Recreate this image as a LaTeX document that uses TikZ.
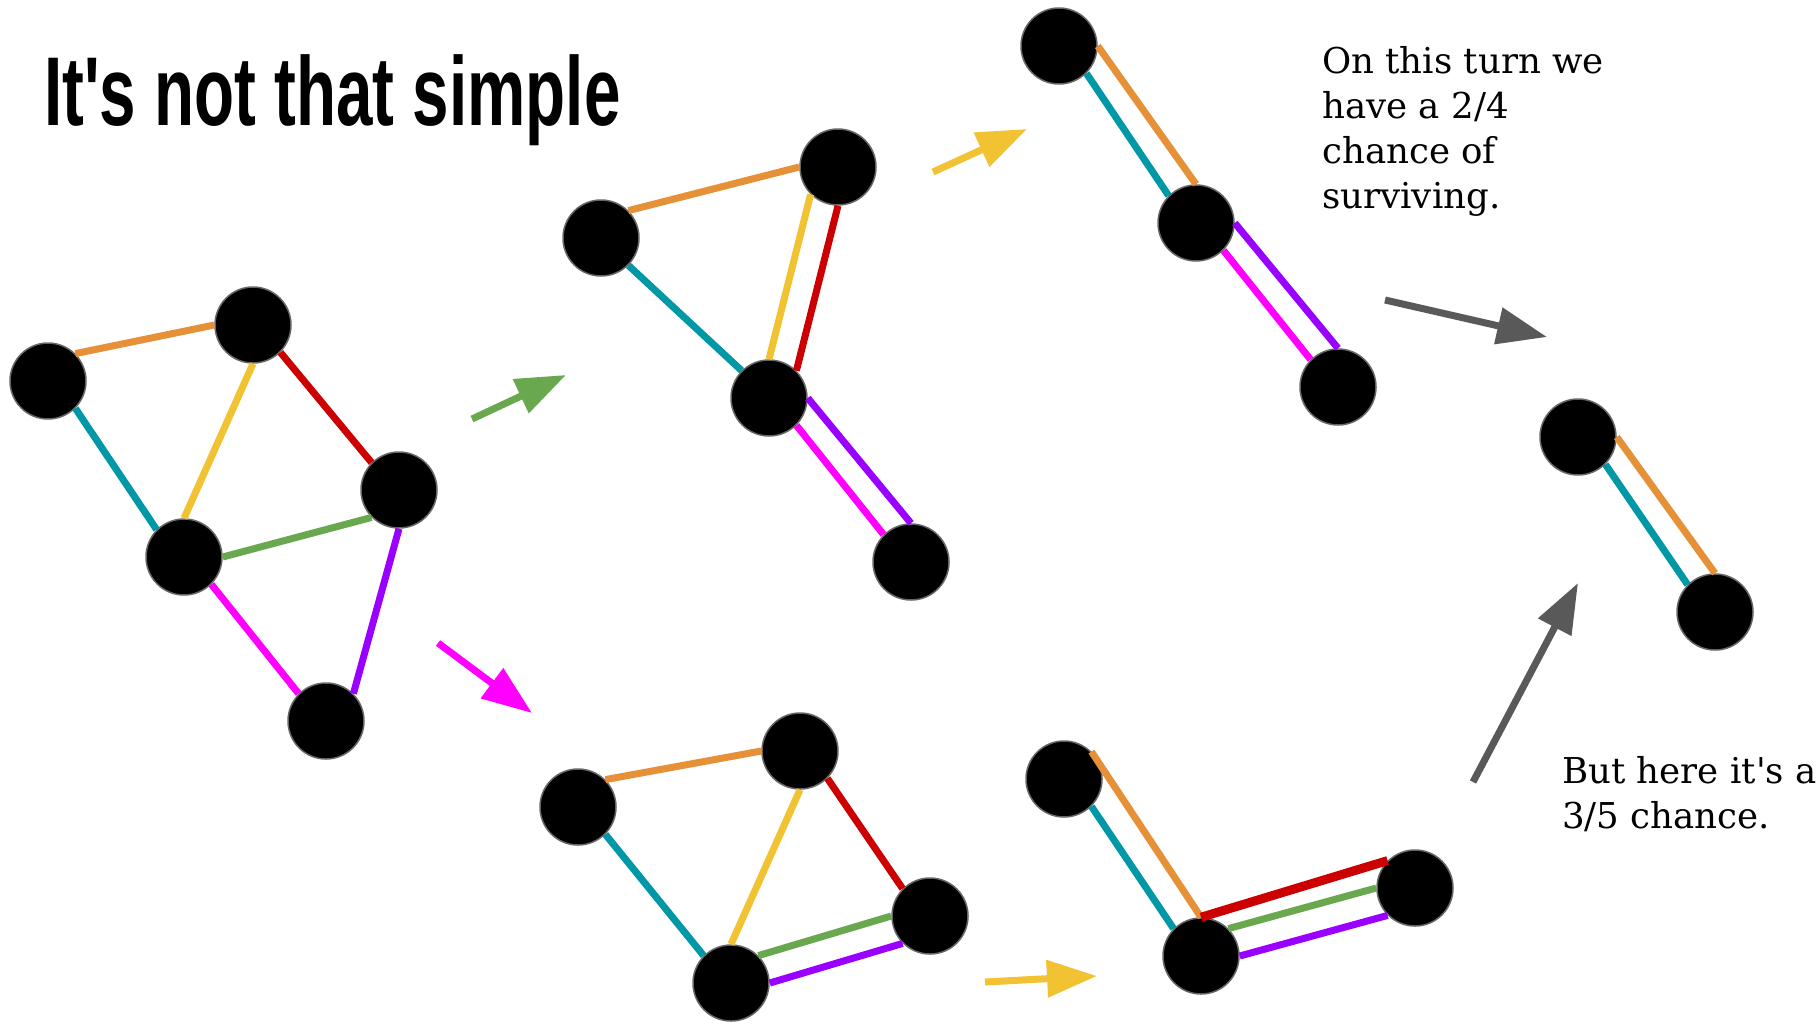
\documentclass[tikz,border=0pt]{standalone}
\usepackage{fontspec}
\usepackage{graphicx}
\usepackage{xcolor}
\usepackage{tikz}
\usetikzlibrary{arrows.meta}
\newfontfamily\titlefont[Ligatures=TeXOff]{Liberation Sans}
\newfontfamily\notefont[Ligatures=TeXOff]{DejaVu Serif}
\definecolor{edgeorange}{HTML}{E69138}
\definecolor{edgered}{HTML}{CC0000}
\definecolor{edgeyellow}{HTML}{F1C232}
\definecolor{edgeteal}{HTML}{0097A7}
\definecolor{edgegreen}{HTML}{6AA84F}
\definecolor{edgemagenta}{HTML}{FF00FF}
\definecolor{edgepurple}{HTML}{9900FF}
\definecolor{arrowgray}{HTML}{595959}
\definecolor{rimgray}{HTML}{666666}

\begin{document}
\begin{tikzpicture}[
  x=1pt, y=-1pt,
  vertex/.style={circle, fill=black, draw=rimgray, line width=1.5pt, minimum size=76pt, inner sep=0pt},
  link/.style={line width=7pt},
  move/.style={line width=7pt, -{Triangle[length=50pt, width=36pt]}},
  note/.style={font=\notefont\fontsize{35.6}{45}\selectfont, align=left, inner sep=0pt},
]
\fill[white] (0,0) rectangle (1820,1023);
\useasboundingbox (0,0) rectangle (1820,1023);

\node[anchor=base west, inner sep=0pt, font=\titlefont\bfseries\fontsize{97.8}{100}\selectfont] (title) at (44,125) {\scalebox{0.67}[1]{It's not that simple}};

% starting graph
\node[vertex] (s1a) at (48,381) {};
\node[vertex] (s1b) at (253,325) {};
\node[vertex] (s1c) at (399,490) {};
\node[vertex] (s1d) at (184,557) {};
\node[vertex] (s1e) at (326,721) {};
\draw[link, edgeorange] (s1a.45) -- (s1b.180);
\draw[link, edgered] (s1b.315) -- (s1c.135);
\draw[link, edgeyellow] (s1b.270) -- (s1d.90);
\draw[link, edgeteal] (s1a.315) -- (s1d.135);
\draw[link, edgegreen] (s1d.0) -- (s1c.225);
\draw[link, edgemagenta] (s1d.315) -- (s1e.135);
\draw[link, edgepurple] (s1c.270) -- (s1e.45);

% green contracted
\node[vertex] (s2a) at (601,238) {};
\node[vertex] (s2b) at (838,167) {};
\node[vertex] (s2d) at (769,398) {};
\node[vertex] (s2e) at (911,562) {};
\draw[link, edgeorange] (s2a.45) -- (s2b.180);
\draw[link, edgeteal] (s2a.315) -- (s2d.135);
\draw[link, edgeyellow] (s2b.225) -- (s2d.90);
\draw[link, edgered] (s2b.270) -- (s2d.45);
\draw[link, edgemagenta] (s2d.315) -- (s2e.135);
\draw[link, edgepurple] (s2d.0) -- (s2e.90);

% then yellow
\node[vertex] (s3a) at (1059,46) {};
\node[vertex] (s3d) at (1196,223) {};
\node[vertex] (s3e) at (1338,387) {};
\draw[link, edgeteal] (s3a.315) -- (s3d.135);
\draw[link, edgeorange] (s3a.0) -- (s3d.90);
\draw[link, edgemagenta] (s3d.315) -- (s3e.135);
\draw[link, edgepurple] (s3d.0) -- (s3e.90);

% magenta contracted
\node[vertex] (s5a) at (578,807) {};
\node[vertex] (s5b) at (800,751) {};
\node[vertex] (s5c) at (930,916) {};
\node[vertex] (s5d) at (731,983) {};
\draw[link, edgeorange] (s5a.45) -- (s5b.180);
\draw[link, edgeteal] (s5a.315) -- (s5d.135);
\draw[link, edgeyellow] (s5b.270) -- (s5d.90);
\draw[link, edgered] (s5b.315) -- (s5c.135);
\draw[link, edgegreen] (s5d.45) -- (s5c.180);
\draw[link, edgepurple] (s5d.0) -- (s5c.225);

% then yellow
\node[vertex] (s6a) at (1064,779) {};
\node[vertex] (s6d) at (1201,956) {};
\node[vertex] (s6c) at (1415,888) {};
\draw[link, edgeteal] (s6a.315) -- (s6d.135);
\draw[link, edgeorange] (s6a.45) -- (s6d.90);
\draw[link, edgered, line width=9pt] (s6d.90) -- (s6c.135);
\draw[link, edgegreen] (s6d.45) -- (s6c.180);
\draw[link, edgepurple] (s6d.0) -- (s6c.225);

% last two
\node[vertex] (s4a) at (1578,437) {};
\node[vertex] (s4b) at (1715,612) {};
\draw[link, edgeteal] (s4a.315) -- (s4b.135);
\draw[link, edgeorange] (s4a.0) -- (s4b.90);

% arrows between steps
\coordinate (greentail) at (472,419);
\coordinate (greenhead) at (566,375);
\coordinate (pinktail) at (438,643);
\coordinate (pinkhead) at (532,713);
\coordinate (uptail) at (933,172);
\coordinate (uphead) at (1027,129);
\coordinate (lowtail) at (985,982);
\coordinate (lowhead) at (1097,976);
\coordinate (topgraytail) at (1385,300);
\coordinate (topgrayhead) at (1547,337);
\coordinate (lowgraytail) at (1473,782);
\coordinate (lowgrayhead) at (1578,583);
\draw[move, edgegreen] (greentail) -- (greenhead);
\draw[move, edgemagenta] (pinktail) -- (pinkhead);
\draw[move, edgeyellow] (uptail) -- (uphead);
\draw[move, edgeyellow] (lowtail) -- (lowhead);
\draw[move, arrowgray] (topgraytail) -- (topgrayhead);
\draw[move, arrowgray] (lowgraytail) -- (lowgrayhead);

\node[note, anchor=base west] (turnnote) at (1322,208) {On this turn we\\have a 2/4\\chance of\\surviving.};
\node[note, anchor=base west] (herenote) at (1562,828) {But here it's a\\3/5 chance.};
\end{tikzpicture}
\end{document}
